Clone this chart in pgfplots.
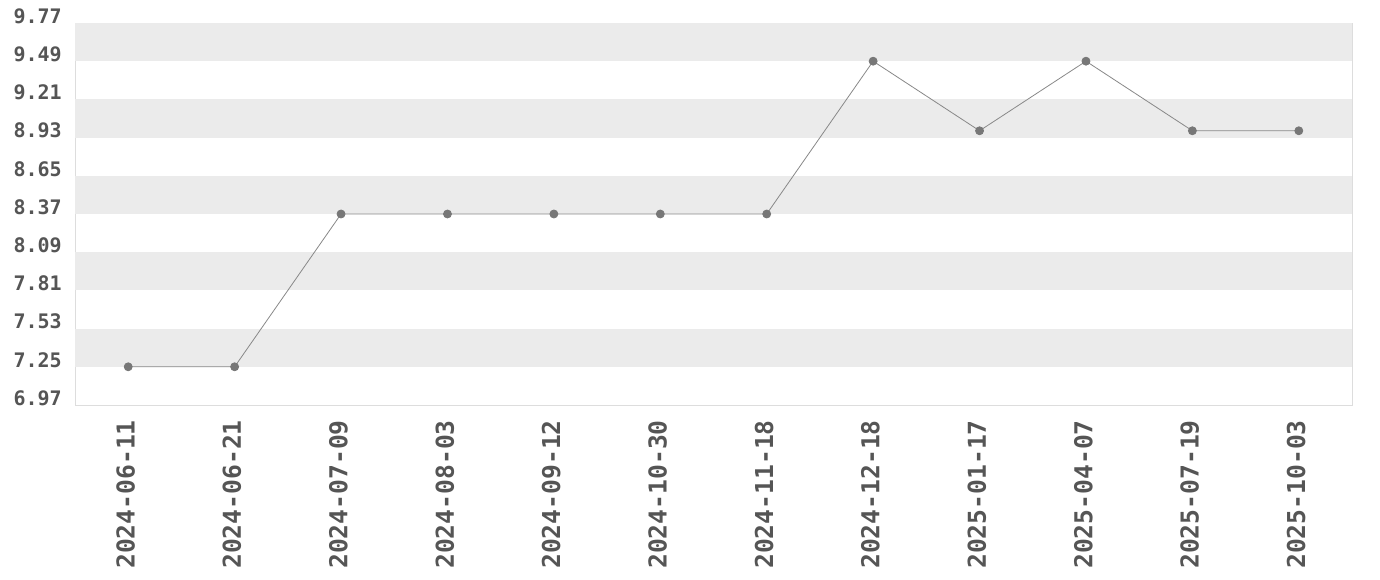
\documentclass[border=0pt]{standalone}
\usepackage{pgfplots}
\pgfplotsset{compat=1.18}
\usepackage{fontspec}
\setmonofont{DejaVu Sans Mono}
\definecolor{bandgray}{HTML}{EBEBEB}
\definecolor{framegray}{HTML}{DDDDDD}
\definecolor{linegray}{HTML}{888888}
\definecolor{markgray}{HTML}{777777}
\definecolor{textgray}{HTML}{555555}
\begin{document}
\begin{tikzpicture}
\useasboundingbox (0,0) rectangle (1035pt,435pt);
\begin{axis}[
  at={(56.25pt,131.25pt)}, anchor=south west,
  scale only axis, width=957.75pt, height=286.5pt,
  xmin=-0.5, xmax=11.5, ymin=6.97, ymax=9.77,
  axis line style={framegray, line width=0.6pt},
  major tick length=0pt,
  xtick={0,...,11},
  xticklabels={2024-06-11,2024-06-21,2024-07-09,2024-08-03,2024-09-12,2024-10-30,2024-11-18,2024-12-18,2025-01-17,2025-04-07,2025-07-19,2025-10-03},
  ytick={6.97,7.25,7.53,7.81,8.09,8.37,8.65,8.93,9.21,9.49,9.77},
  yticklabels={6.97,7.25,7.53,7.81,8.09,8.37,8.65,8.93,9.21,9.49,9.77},
  xticklabel style={rotate=90, anchor=east, font=\ttfamily\bfseries\fontsize{18.5}{20}\selectfont, text=textgray, inner sep=0pt, yshift=2pt},
  yticklabel style={anchor=east, font=\ttfamily\bfseries\fontsize{15}{17}\selectfont, text=textgray, inner sep=0pt, yshift=5.25pt},
  xtick pos=bottom, ytick pos=left,
  xticklabel shift=11.25pt,
  yticklabel shift=9.75pt,
  clip=false,
]
\addplot[fill=bandgray, draw=none, forget plot] coordinates {(-0.5,9.49) (11.5,9.49) (11.5,9.77) (-0.5,9.77)} -- cycle;
\addplot[fill=bandgray, draw=none, forget plot] coordinates {(-0.5,8.93) (11.5,8.93) (11.5,9.21) (-0.5,9.21)} -- cycle;
\addplot[fill=bandgray, draw=none, forget plot] coordinates {(-0.5,8.37) (11.5,8.37) (11.5,8.65) (-0.5,8.65)} -- cycle;
\addplot[fill=bandgray, draw=none, forget plot] coordinates {(-0.5,7.81) (11.5,7.81) (11.5,8.09) (-0.5,8.09)} -- cycle;
\addplot[fill=bandgray, draw=none, forget plot] coordinates {(-0.5,7.25) (11.5,7.25) (11.5,7.53) (-0.5,7.53)} -- cycle;
\addplot[linegray, line width=0.6pt, mark=*, mark size=3pt, mark options={fill=markgray, draw=markgray}] coordinates {
(0,7.25) (1,7.25) (2,8.37) (3,8.37) (4,8.37) (5,8.37) (6,8.37) (7,9.49) (8,8.98) (9,9.49) (10,8.98) (11,8.98)
};
\end{axis}
\end{tikzpicture}
\end{document}
